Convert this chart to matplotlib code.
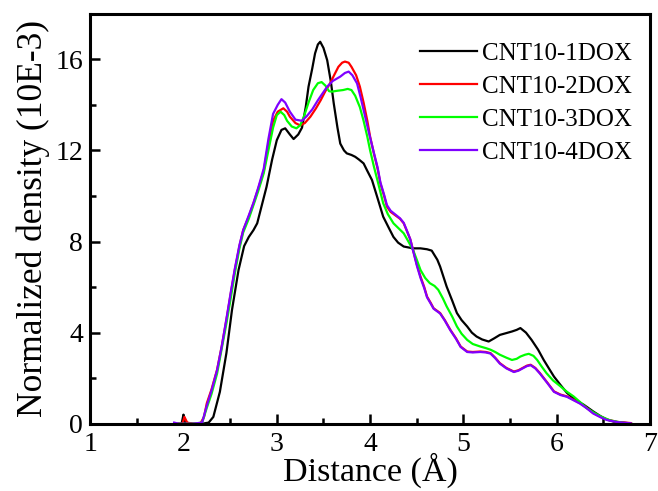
import matplotlib
matplotlib.use("Agg")
import matplotlib.pyplot as plt
from matplotlib.ticker import MultipleLocator

plt.rcParams['font.family'] = ['Liberation Serif', 'DejaVu Serif']

# --- data (distance in Angstrom, density in 10E-3) ---
x_1dox = [1.90, 1.98, 2.00, 2.02, 2.10, 2.20, 2.27, 2.32, 2.39, 2.46, 2.52, 2.59, 2.65, 2.70,
          2.75, 2.79, 2.84, 2.89, 2.95, 3.00, 3.05, 3.09, 3.14, 3.18, 3.23, 3.27, 3.31, 3.34,
          3.38, 3.41, 3.44, 3.465, 3.50, 3.54, 3.58, 3.61, 3.65, 3.68, 3.72, 3.75, 3.80, 3.84,
          3.88, 3.93, 3.97, 4.02, 4.08, 4.14, 4.20, 4.25, 4.30, 4.36, 4.46, 4.54, 4.61, 4.66,
          4.72, 4.75, 4.82, 4.88, 4.93, 4.98, 5.04, 5.09, 5.14, 5.20, 5.27, 5.33, 5.39, 5.46,
          5.52, 5.57, 5.61, 5.67, 5.73, 5.80, 5.86, 5.92, 5.97, 6.04, 6.11, 6.20, 6.29, 6.39,
          6.47, 6.54, 6.62, 6.75, 6.80]
y_1dox = [0.0, 0.0, 0.4, 0.05, 0.0, 0.0, 0.05, 0.3, 1.4, 3.1, 5.0, 6.75, 7.8, 8.2,
          8.5, 8.8, 9.6, 10.4, 11.6, 12.45, 12.9, 12.97, 12.7, 12.5, 12.7, 13.0, 13.9, 14.8,
          15.6, 16.26, 16.65, 16.77, 16.5, 15.96, 15.0, 14.07, 13.0, 12.3, 12.0, 11.87, 11.8, 11.72,
          11.6, 11.43, 11.1, 10.7, 9.9, 9.09, 8.6, 8.2, 7.95, 7.78, 7.7, 7.7, 7.66, 7.6,
          7.2, 6.9, 6.02, 5.4, 4.86, 4.55, 4.27, 4.0, 3.83, 3.7, 3.61, 3.75, 3.9, 3.98,
          4.05, 4.12, 4.2, 4.0, 3.68, 3.25, 2.8, 2.4, 2.07, 1.7, 1.35, 1.05, 0.83, 0.54,
          0.33, 0.18, 0.08, 0.03, 0.0]

x_2dox = [1.95, 1.99, 2.01, 2.04, 2.10, 2.18, 2.22, 2.25, 2.30, 2.36, 2.41, 2.46, 2.51, 2.55,
          2.60, 2.64, 2.70, 2.75, 2.80, 2.86, 2.91, 2.96, 3.01, 3.07, 3.11, 3.14, 3.20, 3.25,
          3.30, 3.36, 3.42, 3.47, 3.52, 3.57, 3.62, 3.66, 3.70, 3.73, 3.77, 3.80, 3.85, 3.89,
          3.93, 3.97, 4.00, 4.04, 4.08, 4.11, 4.15, 4.18, 4.22, 4.29, 4.32, 4.36, 4.39, 4.43,
          4.46, 4.50, 4.54, 4.58, 4.61, 4.65, 4.68, 4.72, 4.75, 4.80, 4.86, 4.92, 4.97, 5.04,
          5.10, 5.18, 5.24, 5.29, 5.34, 5.39, 5.46, 5.54, 5.59, 5.63, 5.68, 5.72, 5.77, 5.82,
          5.90, 5.97, 6.04, 6.11, 6.18, 6.25, 6.32, 6.39, 6.47, 6.54, 6.65, 6.79]
y_2dox = [0.0, 0.0, 0.3, 0.05, 0.0, 0.0, 0.3, 0.9, 1.5, 2.37, 3.4, 4.56, 5.8, 6.75,
          7.8, 8.5, 9.1, 9.68, 10.3, 11.1, 12.3, 13.3, 13.7, 13.85, 13.7, 13.48, 13.2, 13.1,
          13.2, 13.48, 13.85, 14.2, 14.6, 14.94, 15.35, 15.67, 15.85, 15.9, 15.85, 15.67, 15.3, 14.8,
          14.1, 13.3, 12.6, 11.87, 11.2, 10.55, 10.0, 9.53, 9.3, 9.09, 9.0, 8.8, 8.5, 8.1,
          7.63, 7.0, 6.46, 6.0, 5.58, 5.3, 5.07, 4.95, 4.86, 4.55, 4.12, 3.75, 3.39, 3.17,
          3.15, 3.17, 3.15, 3.1, 2.9, 2.66, 2.45, 2.29, 2.35, 2.44, 2.55, 2.59, 2.45, 2.22,
          1.8, 1.42, 1.28, 1.2, 1.05, 0.9, 0.7, 0.47, 0.3, 0.18, 0.08, 0.03]

x_3dox = [1.95, 2.10, 2.20, 2.25, 2.30, 2.36, 2.41, 2.46, 2.51, 2.55, 2.60, 2.64, 2.70, 2.75,
          2.80, 2.86, 2.91, 2.96, 3.00, 3.04, 3.08, 3.11, 3.16, 3.21, 3.25, 3.29, 3.34, 3.39,
          3.44, 3.48, 3.52, 3.56, 3.59, 3.65, 3.71, 3.76, 3.80, 3.84, 3.89, 3.93, 3.97, 4.00,
          4.04, 4.09, 4.14, 4.19, 4.25, 4.30, 4.36, 4.41, 4.46, 4.50, 4.54, 4.59, 4.64, 4.69,
          4.73, 4.78, 4.82, 4.88, 4.93, 4.98, 5.04, 5.10, 5.18, 5.24, 5.29, 5.34, 5.39, 5.46,
          5.52, 5.57, 5.61, 5.66, 5.70, 5.75, 5.79, 5.84, 5.89, 5.96, 6.04, 6.11, 6.18, 6.25,
          6.32, 6.40, 6.47, 6.57, 6.68, 6.75]
y_3dox = [0.0, 0.0, 0.05, 0.7, 1.3, 2.2, 3.3, 4.4, 5.6, 6.6, 7.7, 8.4, 9.0, 9.6,
          10.2, 11.0, 12.0, 13.0, 13.55, 13.7, 13.55, 13.3, 13.05, 12.97, 13.1, 13.48, 14.1, 14.65,
          14.95, 15.0, 14.85, 14.6, 14.58, 14.62, 14.65, 14.7, 14.65, 14.4, 13.9, 13.3, 12.6, 12.0,
          11.3, 10.5, 9.68, 9.2, 8.8, 8.6, 8.36, 8.0, 7.63, 7.2, 6.75, 6.4, 6.17, 6.05,
          5.88, 5.5, 5.15, 4.7, 4.27, 3.95, 3.68, 3.5, 3.39, 3.32, 3.25, 3.15, 3.03, 2.9,
          2.8, 2.85, 2.95, 3.03, 3.07, 2.98, 2.8, 2.5, 2.22, 1.9, 1.64, 1.4, 1.2, 0.95,
          0.69, 0.48, 0.32, 0.15, 0.06, 0.02]

x_4dox = [1.90, 1.95, 2.10, 2.20, 2.25, 2.30, 2.36, 2.41, 2.46, 2.51, 2.55, 2.60, 2.64, 2.70,
          2.75, 2.80, 2.86, 2.91, 2.96, 3.01, 3.05, 3.09, 3.14, 3.20, 3.27, 3.32, 3.38, 3.44,
          3.49, 3.54, 3.60, 3.68, 3.73, 3.77, 3.81, 3.86, 3.90, 3.94, 3.98, 4.04, 4.08, 4.11,
          4.15, 4.18, 4.22, 4.29, 4.32, 4.36, 4.39, 4.43, 4.46, 4.50, 4.54, 4.58, 4.61, 4.65,
          4.68, 4.72, 4.75, 4.80, 4.86, 4.92, 4.97, 5.04, 5.10, 5.18, 5.24, 5.29, 5.34, 5.39,
          5.46, 5.54, 5.59, 5.63, 5.68, 5.72, 5.77, 5.82, 5.90, 5.97, 6.04, 6.11, 6.18, 6.25,
          6.32, 6.39, 6.47, 6.54, 6.65, 6.79]
y_4dox = [0.05, 0.0, 0.0, 0.05, 0.8, 1.45, 2.35, 3.4, 4.6, 5.85, 6.8, 7.85, 8.5, 9.15,
          9.7, 10.35, 11.2, 12.5, 13.6, 14.0, 14.25, 14.1, 13.7, 13.35, 13.3, 13.5, 13.8, 14.2,
          14.5, 14.8, 15.05, 15.24, 15.4, 15.46, 15.3, 14.94, 14.3, 13.6, 12.9, 11.9, 11.25, 10.6,
          10.05, 9.6, 9.35, 9.12, 9.02, 8.82, 8.52, 8.1, 7.6, 6.95, 6.4, 5.95, 5.55, 5.27,
          5.05, 4.93, 4.84, 4.53, 4.1, 3.73, 3.37, 3.15, 3.13, 3.15, 3.13, 3.08, 2.88, 2.64,
          2.43, 2.27, 2.33, 2.42, 2.53, 2.57, 2.43, 2.2, 1.78, 1.4, 1.26, 1.18, 1.03, 0.88,
          0.68, 0.45, 0.28, 0.16, 0.07, 0.02]

labels = ["CNT10-1DOX", "CNT10-2DOX", "CNT10-3DOX", "CNT10-4DOX"]
colors = ["#000000", "#ff0000", "#00ff00", "#7f00ff"]

fig = plt.figure(figsize=(6.58, 4.91), dpi=100)
ax = fig.add_axes([0.137, 0.137, 0.851, 0.835])

series = [(x_1dox, y_1dox), (x_2dox, y_2dox), (x_3dox, y_3dox), (x_4dox, y_4dox)]
for (xs, ys), lab, col in zip(series, labels, colors):
    ax.plot(xs, ys, color=col, linewidth=1.6, label=lab)

ax.set_xlim(1, 7)
ax.set_ylim(0, 18)
ax.xaxis.set_major_locator(MultipleLocator(1))
ax.xaxis.set_minor_locator(MultipleLocator(0.5))
ax.yaxis.set_major_locator(MultipleLocator(4))
ax.yaxis.set_minor_locator(MultipleLocator(2))
ax.tick_params(which='both', direction='in', width=1.8, labelsize=20, top=False, right=False)
ax.tick_params(which='major', length=7)
ax.tick_params(which='minor', length=4)
ax.tick_params(axis='x', which='major', pad=6)
ax.tick_params(axis='y', which='major', pad=5)
for sp in ax.spines.values():
    sp.set_linewidth(2.2)

ax.set_xlabel("Distance (Å)", fontsize=24.5, labelpad=-3)
ax.set_ylabel("Normalized density (10E-3)", fontsize=25.5, labelpad=4)

ax.legend(loc='upper left', bbox_to_anchor=(0.571, 0.954), frameon=False, fontsize=18,
          handlelength=2.3, handletextpad=0.2, labelspacing=0.42, borderaxespad=0)

fig.savefig("out.png", dpi=100)
